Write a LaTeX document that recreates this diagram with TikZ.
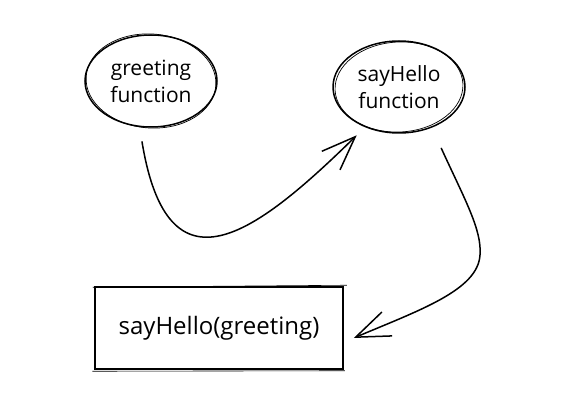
\documentclass[tikz,border=0pt]{standalone}
\usepackage{fontspec}
\setmainfont{Open Sans}
\usepackage{tikz}
\usetikzlibrary{positioning,arrows.meta,calc,shapes.geometric}

\begin{document}
\begin{tikzpicture}[x=1pt, y=-1pt,
  bub/.style={draw, ellipse, line width=1.5pt, minimum width=132, minimum height=92, align=center, font=\fontsize{21}{27}\selectfont, inner sep=0pt},
  blk/.style={draw, line width=1.5pt, minimum width=248, minimum height=82, font=\fontsize{24}{27}\selectfont},
  arr/.style={line width=1.5pt, line cap=round, -{Straight Barb[length=34pt, width=26pt, line width=1.5pt]}}]
\useasboundingbox (0,0) rectangle (568,403);
\node[bub] (greet) at (151,81) {greeting\\function};
\node[bub] (say) at (399,87) {sayHello\\function};
\node[blk] (call) at (219,328) {sayHello(greeting)};
% second stroke for the sketchy look
\draw[line width=0.7pt] (greet.center) ellipse[x radius=65, y radius=47, rotate=-4];
\draw[line width=0.7pt] (say.center) ellipse[x radius=64, y radius=45, rotate=3];
\draw[line width=0.6pt] ([shift={(-1.5,1)}]call.north west) -- ([shift={(3,-1)}]call.north east);
\draw[line width=0.6pt] ([shift={(-2,1.5)}]call.south west) -- ([shift={(1,1)}]call.south east);
\draw[arr] ([xshift=-9pt, yshift=-14pt]greet.south) .. controls (168,300) and (255,235) .. ([xshift=-4pt, yshift=-10pt]say.225);
\draw[arr] ([xshift=4pt, yshift=-23pt]say.315) .. controls (465,200) and (482,230) .. (480,255) .. controls (478,290) and (420,310) .. ([xshift=10pt, yshift=-10pt]call.east);
\end{tikzpicture}
\end{document}
